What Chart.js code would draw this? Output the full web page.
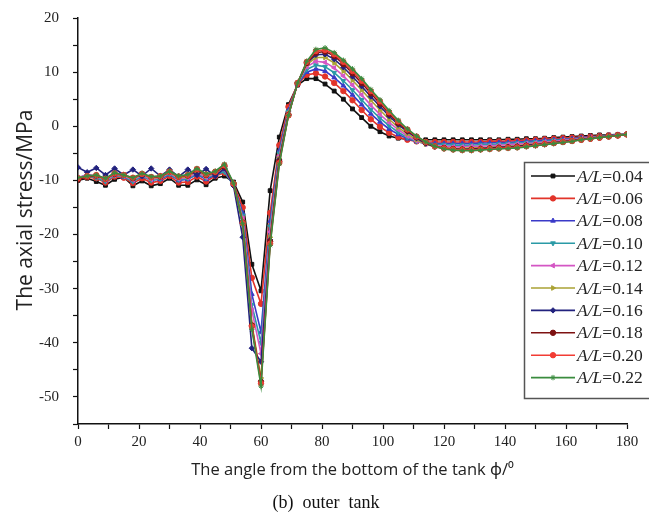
<!DOCTYPE html>
<html>
<head>
<meta charset="utf-8">
<script src="https://cdn.jsdelivr.net/npm/chart.js@4/dist/chart.umd.js"></script>
<style>
html,body{margin:0;padding:0;background:#fff;}
#wrap{width:649px;height:518px;position:relative;}
</style>
</head>
<body>
<div id="wrap"><canvas id="c" width="649" height="518"></canvas></div>
<script>
// ---- data ----
const angles = [0,3,6,9,12,15,18,21,24,27,30,33,36,39,42,45,48,51,54,57,60,63,66,69,72,75,78,81,84,87,90,93,96,99,102,105,108,111,114,117,120,123,126,129,132,135,138,141,144,147,150,153,156,159,162,165,168,171,174,177,180];
const seriesNames = ['0.04','0.06','0.08','0.10','0.12','0.14','0.16','0.18','0.20','0.22'];
const s004 = [-10.0,-9.6,-10.2,-10.9,-9.8,-9.4,-11.0,-10.1,-11.0,-10.6,-9.6,-10.9,-10.9,-9.9,-10.8,-9.6,-9.2,-10.3,-14.0,-25.5,-30.4,-11.9,-2.0,4.0,7.6,8.8,8.8,7.8,6.5,5.0,3.2,1.6,0.0,-1.0,-1.8,-2.2,-2.4,-2.5,-2.5,-2.5,-2.5,-2.5,-2.5,-2.5,-2.5,-2.5,-2.5,-2.4,-2.4,-2.3,-2.3,-2.2,-2.1,-2.0,-1.9,-1.8,-1.7,-1.6,-1.6,-1.5,-1.5];
const s006 = [-9.8,-9.4,-9.6,-10.4,-9.3,-9.5,-10.5,-9.6,-10.4,-10.1,-9.2,-10.4,-10.3,-9.3,-10.2,-9.2,-8.6,-10.6,-15.0,-28.0,-32.8,-16.0,-3.5,3.6,7.8,9.5,9.8,9.2,8.0,6.5,4.8,3.0,1.3,-0.1,-1.2,-2.0,-2.5,-2.8,-2.9,-2.9,-2.9,-2.9,-2.9,-2.9,-2.9,-2.8,-2.8,-2.7,-2.7,-2.6,-2.5,-2.4,-2.3,-2.2,-2.1,-2.0,-1.9,-1.8,-1.7,-1.6,-1.5];
const s008 = [-9.6,-8.9,-9.3,-10.0,-8.9,-9.4,-10.1,-9.3,-9.9,-9.8,-8.9,-10.0,-9.8,-8.9,-9.8,-9.0,-8.3,-10.8,-16.0,-31.0,-38.0,-17.5,-4.5,3.0,7.8,10.0,10.6,10.2,9.0,7.5,5.8,4.0,2.3,0.8,-0.5,-1.5,-2.3,-2.8,-3.1,-3.2,-3.2,-3.2,-3.2,-3.2,-3.1,-3.1,-3.0,-3.0,-2.9,-2.8,-2.7,-2.6,-2.5,-2.4,-2.3,-2.1,-2.0,-1.9,-1.7,-1.6,-1.5];
const s010 = [-9.7,-9.2,-9.5,-10.2,-9.1,-9.3,-10.2,-9.2,-10.0,-9.7,-8.8,-9.9,-9.7,-8.8,-9.6,-8.9,-8.4,-10.9,-16.5,-33.0,-40.0,-18.5,-5.0,2.7,7.9,10.5,11.3,11.0,9.9,8.4,6.7,4.9,3.1,1.5,0.1,-1.1,-2.1,-2.8,-3.2,-3.4,-3.4,-3.5,-3.5,-3.5,-3.4,-3.4,-3.3,-3.2,-3.1,-3.0,-2.9,-2.8,-2.6,-2.5,-2.4,-2.2,-2.1,-1.9,-1.8,-1.6,-1.5];
const s012 = [-9.5,-9.0,-9.3,-9.9,-9.0,-9.2,-9.9,-9.0,-9.8,-9.5,-8.6,-9.7,-9.5,-8.5,-9.4,-8.7,-8.0,-10.9,-17.0,-34.0,-42.0,-19.5,-5.5,2.5,8.0,11.0,12.0,11.8,10.8,9.3,7.6,5.8,3.9,2.2,0.7,-0.6,-1.8,-2.7,-3.3,-3.6,-3.7,-3.8,-3.8,-3.7,-3.7,-3.6,-3.5,-3.4,-3.3,-3.2,-3.1,-2.9,-2.8,-2.6,-2.5,-2.3,-2.1,-2.0,-1.8,-1.6,-1.5];
const s014 = [-9.6,-9.1,-9.2,-9.8,-8.8,-9.1,-9.7,-8.9,-9.6,-9.4,-8.5,-9.5,-9.3,-8.2,-9.2,-8.6,-7.6,-10.7,-17.5,-36.5,-46.5,-20.5,-6.0,2.3,8.0,11.4,12.7,12.7,11.7,10.2,8.5,6.7,4.8,3.0,1.3,-0.2,-1.4,-2.5,-3.3,-3.8,-4.0,-4.1,-4.1,-4.0,-4.0,-3.9,-3.8,-3.7,-3.6,-3.4,-3.3,-3.1,-2.9,-2.8,-2.6,-2.4,-2.2,-2.0,-1.8,-1.7,-1.5];
const s016 = [-7.6,-8.5,-7.7,-9.0,-7.8,-9.0,-8.0,-9.2,-7.8,-9.2,-8.0,-9.3,-8.0,-9.0,-7.9,-9.2,-7.8,-11.0,-20.5,-41.0,-43.5,-21.0,-6.2,2.1,8.0,11.7,13.2,13.3,12.4,10.9,9.2,7.4,5.5,3.7,1.9,0.3,-1.0,-2.2,-3.2,-3.8,-4.1,-4.2,-4.3,-4.2,-4.1,-4.0,-3.9,-3.8,-3.7,-3.5,-3.4,-3.2,-3.0,-2.8,-2.6,-2.4,-2.2,-2.0,-1.8,-1.7,-1.5];
const s018 = [-9.8,-9.3,-9.1,-9.7,-8.8,-9.0,-9.6,-8.8,-9.4,-9.3,-8.4,-9.3,-9.1,-8.0,-9.0,-8.5,-7.4,-10.6,-17.8,-36.8,-47.2,-21.3,-6.5,2.1,8.0,11.7,13.6,13.8,13.0,11.5,9.8,8.0,6.1,4.2,2.3,0.6,-0.8,-2.0,-3.0,-3.7,-4.0,-4.2,-4.3,-4.3,-4.2,-4.1,-4.0,-3.9,-3.8,-3.6,-3.5,-3.3,-3.1,-2.9,-2.7,-2.5,-2.3,-2.1,-1.9,-1.7,-1.5];
const s020 = [-9.6,-9.2,-9.0,-9.7,-8.7,-9.0,-9.5,-8.8,-9.4,-9.2,-8.4,-9.3,-9.0,-7.9,-8.9,-8.4,-7.2,-10.6,-17.9,-37.0,-47.5,-21.7,-6.8,2.0,8.0,11.9,13.9,14.1,13.3,11.9,10.2,8.4,6.5,4.6,2.6,0.9,-0.6,-1.9,-2.9,-3.7,-4.1,-4.3,-4.4,-4.4,-4.3,-4.2,-4.1,-4.0,-3.9,-3.7,-3.5,-3.3,-3.1,-2.9,-2.7,-2.5,-2.3,-2.1,-1.9,-1.7,-1.5];
const s022 = [-9.5,-9.2,-9.0,-9.6,-8.6,-9.0,-9.5,-8.7,-9.3,-9.2,-8.3,-9.2,-8.9,-7.8,-8.8,-8.3,-7.0,-10.5,-18.0,-37.5,-48.0,-22.0,-7.0,2.0,8.0,12.0,14.2,14.5,13.6,12.2,10.6,8.8,6.8,4.9,2.9,1.1,-0.5,-1.8,-2.9,-3.7,-4.2,-4.4,-4.5,-4.5,-4.4,-4.3,-4.2,-4.1,-4.0,-3.8,-3.6,-3.4,-3.2,-3.0,-2.8,-2.5,-2.3,-2.1,-1.9,-1.7,-1.5];
const seriesValues = [s004,s006,s008,s010,s012,s014,s016,s018,s020,s022];
const xTickLabels = [0,20,40,60,80,100,120,140,160,180];
const yTickLabels = [-50,-40,-30,-20,-10,0,10,20];

// ---- styles ----
const colors = ['#111111','#e2342a','#3a3ac8','#2a9aa6','#d456c4','#aaa234','#22227e','#7e1212','#f23c34','#3a8c3e'];
const pStyles = ['rect','circle','triangle','triangle','triangle','triangle','rectRot','circle','circle','star'];
const pRot = [0,0,0,180,-90,90,0,0,0,0];

const datasets = seriesValues.map((vals, i) => ({
  label: 'A/L=' + seriesNames[i],
  data: angles.map((a, k) => ({x: a, y: vals[k]})),
  borderColor: colors[i],
  backgroundColor: colors[i],
  pointBackgroundColor: colors[i],
  pointBorderColor: colors[i],
  pointStyle: pStyles[i],
  rotation: pRot[i],
  pointRadius: 2.7,
  pointBorderWidth: 1,
  borderWidth: 1.6,
  tension: 0,
  order: 10 - i
}));

const serif = "'Liberation Serif','Times New Roman',serif";
const sans = "'Open Sans','Noto Sans','DejaVu Sans',sans-serif";

const decor = {
  id: 'decor',
  afterDraw(chart) {
    const ctx = chart.ctx;
    const area = chart.chartArea;
    ctx.save();
    // axis titles
    ctx.fillStyle = '#222';
    ctx.textAlign = 'center';
    ctx.textBaseline = 'middle';
    ctx.font = "16.5px " + sans;
    ctx.fillText('The angle from the bottom of the tank \u03D5/\u2070', (area.left + area.right) / 2, 470);
    ctx.save();
    ctx.translate(26, 210);
    ctx.rotate(-Math.PI / 2);
    ctx.font = "21px " + sans;
    ctx.fillText('The axial stress/MPa', 0, 0);
    ctx.restore();
    ctx.font = "18px " + serif;
    ctx.fillStyle = '#111';
    ctx.fillText('(b)  outer  tank', 326, 503);

    // legend box
    const lx = 524.5, ly = 162.5, lh = 236;
    ctx.fillStyle = '#fff';
    ctx.fillRect(lx, ly, 200, lh);
    ctx.strokeStyle = '#555';
    ctx.lineWidth = 1.5;
    ctx.strokeRect(lx, ly, 200, lh);
    chart.data.datasets.forEach((ds, i) => {
      const y = 176 + i * 22.4;
      ctx.strokeStyle = ds.borderColor;
      ctx.lineWidth = ds.borderWidth;
      ctx.beginPath();
      ctx.moveTo(531, y);
      ctx.lineTo(575, y);
      ctx.stroke();
      if (Chart.helpers && Chart.helpers.drawPoint) {
        ctx.fillStyle = ds.pointBackgroundColor;
        ctx.strokeStyle = ds.pointBorderColor;
        ctx.lineWidth = 1;
        Chart.helpers.drawPoint(ctx, {pointStyle: ds.pointStyle, rotation: ds.rotation, radius: 2.7, borderWidth: 1}, 553, y);
      }
      ctx.fillStyle = '#222';
      ctx.textAlign = 'left';
      ctx.textBaseline = 'middle';
      ctx.font = "italic 17.5px " + serif;
      const lab = 'A/L';
      ctx.fillText(lab, 577, y + 1);
      const w = ctx.measureText(lab).width;
      ctx.font = "17.5px " + serif;
      ctx.fillText('=' + seriesNames[i], 577 + w, y + 1);
    });
    ctx.restore();
  }
};

new Chart(document.getElementById('c'), {
  type: 'line',
  data: { datasets },
  options: {
    responsive: false,
    animation: false,
    events: [],
    layout: { padding: { left: 0, right: 22, top: 18, bottom: 0 } },
    plugins: { legend: { display: false }, tooltip: { enabled: false } },
    scales: {
      x: {
        type: 'linear',
        min: 0, max: 180,
        afterFit: s => { s.height = 94; s.paddingLeft = 0; s.paddingRight = 0; },
        ticks: {
          stepSize: 10,
          autoSkip: false,
          maxRotation: 0,
          padding: 4,
          color: '#222',
          font: { family: serif, size: 15 },
          callback: v => xTickLabels.includes(v) ? String(v) : ''
        },
        grid: { drawOnChartArea: false, drawTicks: true, tickLength: 5, tickColor: '#111', tickWidth: 1.2 },
        border: { display: true, color: '#111', width: 1.5 }
      },
      y: {
        type: 'linear',
        min: -55, max: 20,
        afterFit: s => { s.width = 78; s.paddingTop = 0; s.paddingBottom = 0; },
        ticks: {
          stepSize: 5,
          autoSkip: false,
          padding: 14,
          color: '#222',
          font: { family: serif, size: 15 },
          callback: v => yTickLabels.includes(v) ? String(v) : ''
        },
        grid: { drawOnChartArea: false, drawTicks: true, tickLength: 5, tickColor: '#111', tickWidth: 1.2 },
        border: { display: true, color: '#111', width: 1.5 }
      }
    }
  },
  plugins: [decor]
});
</script>
</body>
</html>
